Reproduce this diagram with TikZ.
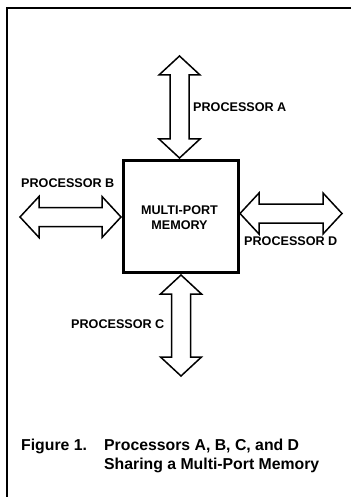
\documentclass[tikz,border=0pt]{standalone}
\usepackage{fontspec}
\setmainfont{Liberation Sans}
\usetikzlibrary{calc}
\tikzset{
  frameline/.style={line width=2pt},
  membox/.style={draw, line width=3pt, minimum width=115pt, minimum height=112pt, inner sep=0pt},
  blockarrow/.style={draw, line width=1.5pt, line join=miter, fill=white},
  lbl/.style={inner sep=0pt, font=\fontsize{12.6}{15}\selectfont\bfseries},
  captxt/.style={inner sep=0pt, font=\fontsize{15.8}{19}\selectfont\bfseries},
}
\newcommand\VArr[3]{%
  \draw[blockarrow] (#1,#2) -- (#1+20.5,#2+19) -- (#1+9.5,#2+19) -- (#1+9.5,#3-19)
    -- (#1+20.5,#3-19) -- (#1,#3) -- (#1-20.5,#3-19) -- (#1-9.5,#3-19)
    -- (#1-9.5,#2+19) -- (#1-20.5,#2+19) -- cycle;}
\newcommand\HArr[3]{%
  \draw[blockarrow] (#2,#1) -- (#2+19,#1-20.5) -- (#2+19,#1-9.5) -- (#3-19,#1-9.5)
    -- (#3-19,#1-20.5) -- (#3,#1) -- (#3-19,#1+20.5) -- (#3-19,#1+9.5)
    -- (#2+19,#1+9.5) -- (#2+19,#1+20.5) -- cycle;}
\begin{document}
\begin{tikzpicture}[x=1pt,y=-1pt]
\useasboundingbox (0,0) rectangle (351,497);
\draw[frameline] (351,8) -- (7,8) -- (7,497);
\node[membox] (mem) at (180.5,216) {};
\node[lbl, align=center] (memtxt) at (179.5,218) {MULTI-PORT\\MEMORY};
% arrows
\VArr{179.5}{56}{158}
\VArr{181}{275}{376}
\HArr{217}{20}{121}
\HArr{213.5}{240}{342}
\node[lbl, anchor=west] (pa) at (193,107) {PROCESSOR A};
\node[lbl, anchor=west] (pb) at (21,183) {PROCESSOR B};
\node[lbl, anchor=west] (pd) at (244,241) {PROCESSOR D};
\node[lbl, anchor=west] (pc) at (71,324) {PROCESSOR C};
\node[captxt, anchor=base west] (fig) at (21,450) {Figure 1.};
\node[captxt, anchor=base west] (c1) at (104,450) {Processors A, B, C, and D};
\node[captxt, anchor=base west] (c2) at (104,469) {Sharing a Multi-Port Memory};
\end{tikzpicture}
\end{document}
